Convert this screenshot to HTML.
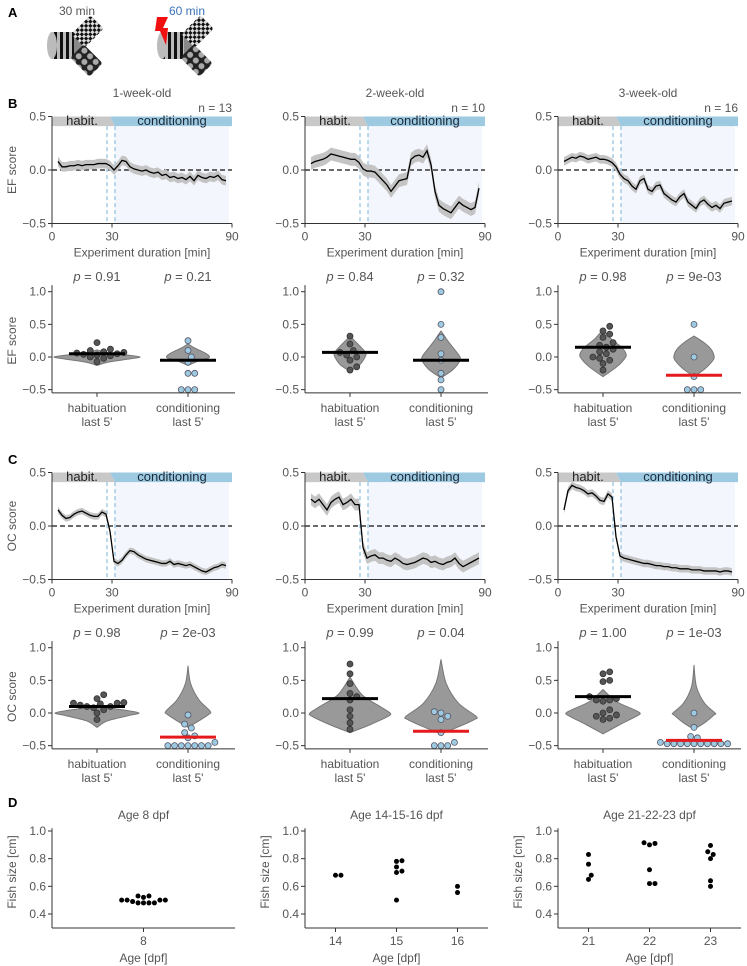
<!DOCTYPE html>
<html><head><meta charset="utf-8"><style>
body{margin:0;background:#fff}
svg{display:block;font-family:"Liberation Sans",sans-serif}
</style></head><body>
<svg id="fig" width="747" height="966" viewBox="0 0 747 966" xmlns="http://www.w3.org/2000/svg">
<defs>
<pattern id="stripes" width="6" height="30" patternUnits="userSpaceOnUse"><rect width="6" height="30" fill="#bbb"/><rect width="3" height="30" fill="#111"/></pattern>
<pattern id="checker" width="6" height="6" patternUnits="userSpaceOnUse"><rect width="6" height="6" fill="#ddd"/><rect width="3" height="3" fill="#111"/><rect x="3" y="3" width="3" height="3" fill="#111"/></pattern>
<pattern id="dots" width="8" height="8" patternUnits="userSpaceOnUse"><rect width="8" height="8" fill="#222"/><circle cx="4" cy="4" r="3" fill="#aaa"/></pattern>
</defs>
</svg>
<script>
// ---------- DATA ----------
const times = [3,5,7,9,11,13,15,17,19,21,23,25,27,29,31,33,35,37,39,41,43,45,47,49,51,53,55,57,59,61,63,65,67,69,71,73,75,77,79,81,83,85,87];
const efWeek1 = [.08,.03,.03,.04,.04,.05,.04,.05,.05,.05,.06,.06,.06,.04,0,.04,.09,.08,.03,.01,0,-.01,0,-.02,-.03,-.02,-.05,-.04,-.07,-.06,-.08,-.07,-.09,-.06,-.1,-.05,-.07,-.08,-.06,-.07,-.05,-.09,-.1];
const efWeek2 = [.06,.08,.09,.1,.12,.15,.14,.13,.12,.11,.1,.1,.07,.01,-.01,-.01,-.02,-.06,-.1,-.14,-.2,-.15,-.1,-.09,-.08,.1,.13,.14,.12,.18,.05,-.2,-.33,-.36,-.38,-.4,-.35,-.3,-.33,-.35,-.37,-.35,-.17];
const efWeek3 = [.08,.1,.12,.11,.13,.12,.1,.11,.12,.1,.1,.09,.07,.03,-.04,-.08,-.1,-.15,-.18,-.1,-.08,-.18,-.2,-.15,-.14,-.22,-.25,-.28,-.3,-.25,-.22,-.3,-.33,-.36,-.3,-.28,-.32,-.35,-.33,-.36,-.31,-.3,-.29];
const ocWeek1 = [.15,.1,.07,.08,.11,.13,.14,.12,.1,.09,.09,.13,.11,-.05,-.33,-.35,-.32,-.27,-.23,-.24,-.27,-.29,-.31,-.32,-.33,-.34,-.35,-.35,-.33,-.36,-.35,-.36,-.37,-.36,-.38,-.4,-.42,-.43,-.41,-.39,-.38,-.36,-.37];
const ocWeek2 = [.25,.22,.25,.2,.15,.22,.25,.27,.2,.22,.25,.2,.2,-.2,-.3,-.28,-.27,-.3,-.3,-.32,-.33,-.3,-.32,-.35,-.36,-.35,-.34,-.32,-.3,-.31,-.34,-.33,-.35,-.36,-.34,-.33,-.3,-.35,-.38,-.36,-.34,-.32,-.3];
const ocWeek3 = [.15,.33,.38,.36,.35,.33,.3,.31,.28,.24,.23,.3,.27,-.1,-.28,-.3,-.31,-.32,-.33,-.34,-.35,-.35,-.36,-.37,-.37,-.38,-.38,-.39,-.39,-.4,-.4,-.4,-.41,-.41,-.41,-.42,-.42,-.42,-.42,-.43,-.42,-.42,-.43];
const semValues = [0.045,0.06,0.04,0.03,0.055,0.035];
const groupTitles = ["1-week-old","2-week-old","3-week-old"];
const nLabels = ["n = 13","n = 10","n = 16"];
const lineTicksX = [0,30,90];
const lineTicksY = [0.5,0,-0.5];
const violinTicksY = [1.0,0.5,0.0,-0.5];
const habEF1 = [.22,.12,.1,.08,.07,.06,.05,.04,.03,.02,0,-.02,-.07];
const condEF1 = [.25,.1,0,-.08,-.25,-.25,-.5,-.5,-.5];
const habEF2 = [.32,.2,.1,.07,.03,0,-.05,-.15,-.2];
const condEF2 = [1.0,.5,.3,.05,-.05,-.25,-.35,-.5];
const habEF3 = [.47,.4,.35,.3,.22,.18,.15,.12,.08,.05,0,-.02,-.05,-.1,-.2];
const condEF3 = [.5,0,-.3,-.5,-.5,-.5];
const habOC1 = [.28,.22,.16,.15,.15,.14,.12,.1,.1,.08,.05,0,-.1];
const condOC1 = [-.03,-.17,-.23,-.3,-.35,-.38,-.45,-.5,-.5,-.5,-.5,-.5,-.5,-.5];
const habOC2 = [.75,.6,.45,.3,.25,.2,.05,-.05,-.15,-.25];
const condOC2 = [0.02,0,-.05,-.1,-.3,-.45,-.5,-.5,-.5];
const habOC3 = [.63,.6,.5,.48,.25,.22,.2,.2,.18,.05,0,-.03,-.05,-.08,-.1];
const condOC3 = [0,-.22,-.36,-.38,-.45,-.47,-.47,-.47,-.47,-.47,-.47,-.47,-.47,-.47,-.47];
const habMeans = [0.05,0.07,0.15,0.10,0.22,0.25];
const condMeans = [-0.05,-0.05,-0.28,-0.37,-0.28,-0.42];
const condSignificant = [false,false,true,true,true,true];
const habP = ["0.91","0.84","0.98","0.98","0.99","1.00"];
const condP = ["0.21","0.32","9e-03","2e-03","0.04","1e-03"];
const violinY = [
 [-.13,-.08,-.03,0,.03,.07,.11],[-.13,-.06,-.02,0.02,.08,.14,.2],
 [-.22,-.12,-.02,.05,.12,.22,.32],[-.32,-.2,-.08,0,.12,.25,.4],
 [-.3,-.15,-.02,.05,.15,.28,.42],[-.3,-.18,-.05,.02,.12,.22,.32],
 [-.22,-.12,-.04,0,.04,.08,.12],[-.22,-.12,-.02,.03,.2,.45,.72],
 [-.3,-.18,-.05,0,.1,.28,.55],[-.32,-.2,-.1,-.05,.15,.45,.82],
 [-.32,-.18,-.05,0,.06,.18,.36],[-.25,-.15,-.03,0,.15,.4,.73]];
const violinW = [
 [0,.25,.75,1,.7,.2,0],[0,.5,.95,1,.7,.3,0],
 [0,.6,.9,1,.8,.4,0],[0,.6,.95,1,.7,.35,0],
 [0,.6,.95,1,.8,.35,0],[0,.55,.95,1,.85,.5,0],
 [0,.25,.75,1,.7,.25,0],[0,.5,.95,1,.5,.12,0],
 [0,.5,.95,1,.75,.3,0],[0,.55,.95,1,.5,.15,0],
 [0,.45,.9,1,.8,.35,0],[0,.5,.95,1,.5,.12,0]];
const violinMaxW = [43,21,16,19,23,20,42,22,40,35,37,21];
const ageGroups = [[8],[14,15,16],[21,22,23]];
const ageTitles = ["Age 8 dpf","Age 14-15-16 dpf","Age 21-22-23 dpf"];
const sizeTicks = [1.0,0.8,0.6,0.4];
const fishAges1 = [8,8,8,8,8,8,8,8,8,8,8,8];
const fishSizes1 = [.53,.53,.52,.5,.5,.5,.49,.48,.48,.48,.48,.5];
const fishAges2 = [14,14,15,15,15,15,15,15,16,16];
const fishSizes2 = [.68,.68,.785,.78,.74,.71,.7,.5,.6,.555];
const fishAges3 = [21,21,21,21,22,22,22,22,22,22,23,23,23,23,23,23];
const fishSizes3 = [.83,.76,.68,.65,.91,.9,.915,.72,.62,.62,.895,.85,.83,.8,.64,.6];

// ---------- HELPERS ----------
const NS="http://www.w3.org/2000/svg";
const fig=document.getElementById('fig');
function mk(tag,attrs,name,parent){
  const el=document.createElementNS(NS,tag);
  for(const k in attrs) el.setAttribute(k,attrs[k]);
  
  
  (parent||fig).appendChild(el);
  return el;
}
function txt(x,y,s,name,opt){
  opt=opt||{};
  const t=mk('text',{x:x,y:y,'font-size':opt.size||12,fill:opt.fill||'#555','text-anchor':opt.anchor||'middle','font-weight':opt.weight||'normal'},name);
  if(opt.rot) t.setAttribute('transform','rotate(-90 '+x+' '+y+')');
  t.textContent=s;
  return t;
}
function fmt(v){return (v<0?'\u2212':'')+Math.abs(v).toFixed(1);}
function smoothPath(pts){
  // Catmull-Rom through pts (array of [x,y]), open
  let d='M'+pts[0][0]+','+pts[0][1];
  for(let i=0;i<pts.length-1;i++){
    const p0=pts[Math.max(0,i-1)],p1=pts[i],p2=pts[i+1],p3=pts[Math.min(pts.length-1,i+2)];
    const c1=[p1[0]+(p2[0]-p0[0])/6,p1[1]+(p2[1]-p0[1])/6];
    const c2=[p2[0]-(p3[0]-p1[0])/6,p2[1]-(p3[1]-p1[1])/6];
    d+=' C'+c1[0]+','+c1[1]+' '+c2[0]+','+c2[1]+' '+p2[0]+','+p2[1];
  }
  return d;
}
const colX=[52,305,558];
const AX='#333';

// ---------- PANEL A ----------
function maze(ox,name){
  const g=mk('g',{},name);
  mk('rect',{x:ox+52,y:32,width:28,height:27,fill:'url(#stripes)'},'striped-arm',g);
  mk('ellipse',{cx:ox+52,cy:45.5,rx:5,ry:13.5,fill:'#bbb'},'arm-end',g);
  mk('polygon',{points:(ox+74)+',32 '+(ox+82)+',36 '+(ox+86)+',46 '+(ox+82)+',55 '+(ox+74)+',59',fill:'#888'},'maze-center',g);
  mk('rect',{x:ox+78,y:18,width:19,height:27,fill:'url(#checker)',transform:'rotate(45 '+(ox+87.5)+' 31.5)',rx:3},'checker-arm',g);
  mk('rect',{x:ox+77,y:47,width:19,height:27,fill:'url(#dots)',transform:'rotate(-45 '+(ox+86.5)+' 60.5)',rx:3},'dotted-arm',g);
}
txt(8,17,'A','panel-a-label',{weight:'bold',size:13,fill:'#000',anchor:'start'});
txt(77,15,'30 min','time-30-label',{size:12});
txt(187,15,'60 min','time-60-label',{size:12,fill:'#3a72b8'});
maze(0,'maze-habituation');
maze(110,'maze-conditioning');
mk('polygon',{points:'157,17 168,17 163,28 168,28 166,45 160,31 155,31',fill:'#f01010'},'shock-bolt');

// ---------- LINE PANELS ----------
const lineSeries=[efWeek1,efWeek2,efWeek3,ocWeek1,ocWeek2,ocWeek3];
const BAND=0.41;
function linePanel(idx,row,col){
  const x0=colX[col], W=180, y0=(row===0?170:526), S=107;
  const xs=t=>x0+t/90*W, ys=v=>y0-v*S;
  const pre=(row===0?'ef-':'oc-')+'w'+(col+1)+'-';
  mk('rect',{x:xs(31.5),y:ys(BAND),width:xs(88.5)-xs(31.5),height:ys(-0.5)-ys(BAND),fill:'#f3f6fd'},pre+'conditioning-shade');
  mk('polygon',{points:[xs(0),ys(.5),xs(29),ys(.5),xs(31.5),ys(BAND),xs(0),ys(BAND)].join(' '),fill:'#c8c8c8'},pre+'habituation-band');
  mk('polygon',{points:[xs(29),ys(.5),xs(90),ys(.5),xs(90),ys(BAND),xs(31.5),ys(BAND)].join(' '),fill:'#9ecae1'},pre+'conditioning-band');
  txt(xs(15),ys(BAND)-1,'habit.',pre+'habit-label',{fill:'#222',size:13});
  txt(xs(60),ys(BAND)-1,'conditioning',pre+'conditioning-label',{fill:'#1a2a3a',size:13});
  [27.5,31.5].forEach((t,i)=>mk('line',{x1:xs(t),x2:xs(t),y1:ys(BAND),y2:ys(-.5),stroke:'#8cc0e0','stroke-width':1.2,'stroke-dasharray':'4,3'},pre+'phase-marker-'+i));
  mk('line',{x1:x0,x2:x0+W,y1:ys(0),y2:ys(0),stroke:'#111','stroke-width':1.2,'stroke-dasharray':'5,3'},pre+'zero-line');
  const d=lineSeries[idx], s=semValues[idx];
  let up=times.map((t,i)=>xs(t)+','+ys(d[i]+s)), dn=times.map((t,i)=>xs(t)+','+ys(d[i]-s)).reverse();
  mk('polygon',{points:up.concat(dn).join(' '),fill:'#c4c4c4'},pre+'sem-band');
  mk('polyline',{points:times.map((t,i)=>xs(t)+','+ys(d[i])).join(' '),fill:'none',stroke:'#000','stroke-width':1.3},pre+'mean-line');
  mk('line',{x1:x0,x2:x0,y1:ys(.5),y2:ys(-.5),stroke:AX},pre+'y-axis');
  mk('line',{x1:x0,x2:x0+W,y1:ys(-.5),y2:ys(-.5),stroke:AX},pre+'x-axis');
  lineTicksY.forEach(v=>{mk('line',{x1:x0-4,x2:x0,y1:ys(v),y2:ys(v),stroke:AX},pre+'y-tick');txt(x0-6,ys(v)+4,fmt(v),pre+'y-tick-label',{anchor:'end'});});
  lineTicksX.forEach(v=>{mk('line',{x1:xs(v),x2:xs(v),y1:ys(-.5),y2:ys(-.5)+4,stroke:AX},pre+'x-tick');txt(xs(v),ys(-.5)+17,String(v),pre+'x-tick-label');});
  txt(x0+W/2,ys(-.5)+33,'Experiment duration [min]',pre+'x-axis-title');
  if(col===0) txt(16,y0,row===0?'EF score':'OC score',pre+'y-axis-title',{rot:true});
  if(row===0){ txt(x0+W/2,97,groupTitles[col],'group-title-'+(col+1)); txt(x0+W,112,nLabels[col],'n-label-'+(col+1),{anchor:'end'}); }
}
// ---------- VIOLINS ----------
const violinPts=[[habEF1,condEF1],[habEF2,condEF2],[habEF3,condEF3],[habOC1,condOC1],[habOC2,condOC2],[habOC3,condOC3]];
function swarm(vals,cx,ys,r){
  const placed=[];
  vals.slice().sort((a,b)=>a-b).forEach(v=>{
    const y=ys(v);
    for(let k=0;k<40;k++){
      const off=(k%2?1:-1)*Math.ceil(k/2)*r*1.05;
      const x=cx+off;
      if(placed.every(p=>Math.hypot(p[0]-x,p[1]-y)>=2*r-0.3)){placed.push([x,y]);break;}
    }
  });
  return placed;
}
function violinPanel(idx,row,col){
  const x0=colX[col], y0=(row===0?357:713), S=65.3;
  const ys=v=>y0-v*S;
  const pre=(row===0?'ef-':'oc-')+'w'+(col+1)+'-violin-';
  const cats=[x0+45,x0+136];
  const means=[habMeans[idx],condMeans[idx]];
  const ps=[habP[idx],condP[idx]];
  for(let c=0;c<2;c++){
    const vi=idx*2+c, cx=cats[c], vy=violinY[vi], vw=violinW[vi], mw=violinMaxW[vi];
    const right=vy.map((v,i)=>[cx+vw[i]*mw,ys(v)]);
    const left=vy.map((v,i)=>[cx-vw[i]*mw,ys(v)]).reverse();
    const d=smoothPath(right)+' '+smoothPath(left).replace('M','L')+' Z';
    mk('path',{d:d,fill:'#999','stroke':'#777','stroke-width':1,'stroke-linejoin':'round'},pre+(c?'conditioning':'habituation')+'-shape');
  }
  for(let c=0;c<2;c++){
    const cx=cats[c];
    const pts=swarm(violinPts[idx][c],cx,ys,3.2);
    pts.forEach(p=>mk('circle',{cx:p[0],cy:p[1],r:3,fill:c?'#9ecae1':'#555',stroke:c?'#556':'#333','stroke-width':0.8},pre+(c?'conditioning':'habituation')+'-point'));
    const red=(c===1&&condSignificant[idx]);
    mk('line',{x1:cx-28,x2:cx+28,y1:ys(means[c]),y2:ys(means[c]),stroke:red?'#e41a1c':'#000','stroke-width':3},pre+(c?'conditioning':'habituation')+'-mean-bar');
    const t=txt(cx,y0-80+4,'',pre+'p-value-'+c,{size:13});
    const it=document.createElementNS(NS,'tspan'); it.setAttribute('font-style','italic'); it.textContent='p'; t.appendChild(it);
    t.appendChild(document.createTextNode(' = '+ps[c]));
    mk('line',{x1:cx,x2:cx,y1:ys(-.55),y2:ys(-.55)+4,stroke:AX},pre+'x-tick');
    txt(cx,ys(-.55)+19,c?'conditioning':'habituation',pre+'x-label-'+c);
    txt(cx,ys(-.55)+33,"last 5'",pre+'x-sublabel-'+c);
  }
  mk('line',{x1:x0,x2:x0,y1:ys(1.1),y2:ys(-.55),stroke:AX},pre+'y-axis');
  mk('line',{x1:x0,x2:x0+183,y1:ys(-.55),y2:ys(-.55),stroke:AX},pre+'x-axis');
  violinTicksY.forEach(v=>{mk('line',{x1:x0-4,x2:x0,y1:ys(v),y2:ys(v),stroke:AX},pre+'y-tick');txt(x0-6,ys(v)+4,fmt(v),pre+'y-tick-label',{anchor:'end'});});
  if(col===0) txt(16,ys(.25),row===0?'EF score':'OC score',pre+'y-axis-title',{rot:true});
}
for(let r=0;r<2;r++)for(let c=0;c<3;c++){linePanel(r*3+c,r,c);violinPanel(r*3+c,r,c);}
txt(8,108,'B','panel-b-label',{weight:'bold',size:13,fill:'#000',anchor:'start'});
txt(8,464,'C','panel-c-label',{weight:'bold',size:13,fill:'#000',anchor:'start'});

// ---------- PANEL D ----------
txt(8,807,'D','panel-d-label',{weight:'bold',size:13,fill:'#000',anchor:'start'});
const fishA=[fishAges1,fishAges2,fishAges3], fishS=[fishSizes1,fishSizes2,fishSizes3];
for(let c=0;c<3;c++){
  const x0=colX[c], W=183, ages=ageGroups[c];
  const amin=ages[0]-0.5, amax=ages[ages.length-1]+0.5;
  const xs=a=>x0+(a-amin)/(amax-amin)*W, ys=v=>914-(v-0.4)/0.6*83;
  const pre='size-'+(c+1)+'-';
  ages.forEach(a=>{
    const vals=fishS[c].filter((v,i)=>fishA[c][i]===a);
    swarm(vals,xs(a),ys,2.6).forEach(p=>mk('circle',{cx:p[0],cy:p[1],r:2.5,fill:'#000'},pre+'fish-point'));
    mk('line',{x1:xs(a),x2:xs(a),y1:928,y2:932,stroke:AX},pre+'x-tick');
    txt(xs(a),945,String(a),pre+'x-tick-label');
  });
  mk('line',{x1:x0,x2:x0,y1:ys(1.02),y2:928,stroke:AX},pre+'y-axis');
  mk('line',{x1:x0,x2:x0+W,y1:928,y2:928,stroke:AX},pre+'x-axis');
  sizeTicks.forEach(v=>{mk('line',{x1:x0-4,x2:x0,y1:ys(v),y2:ys(v),stroke:AX},pre+'y-tick');txt(x0-6,ys(v)+4,v.toFixed(1),pre+'y-tick-label',{anchor:'end'});});
  txt(x0+W/2,819,ageTitles[c],pre+'title');
  txt(x0+W/2,962,'Age [dpf]',pre+'x-axis-title');
  txt(x0-36,872,'Fish size [cm]',pre+'y-axis-title',{rot:true});
}
</script>
</body></html>
